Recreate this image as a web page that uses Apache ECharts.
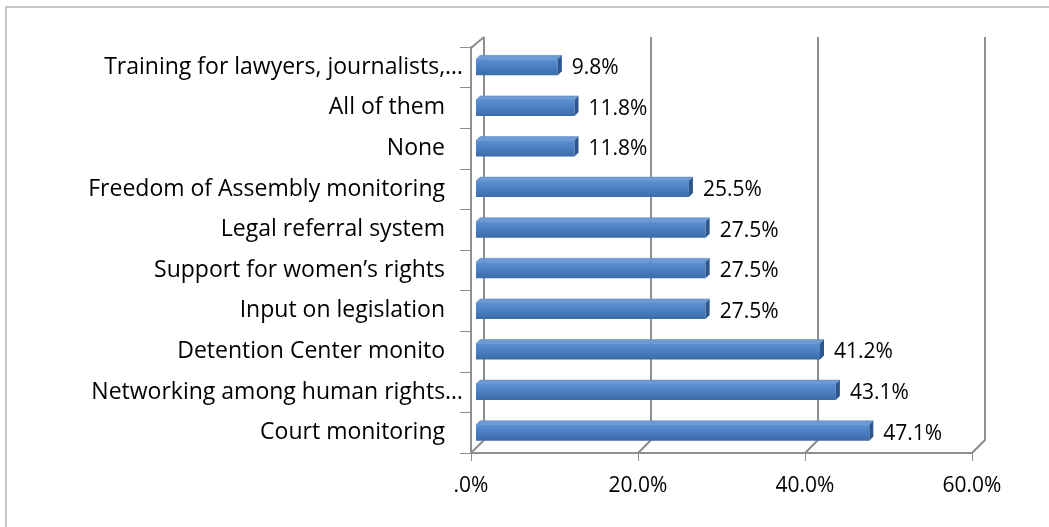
<!DOCTYPE html>
<html>
<head>
<meta charset="utf-8">
<script src="https://cdn.jsdelivr.net/npm/echarts@6/dist/echarts.min.js"></script>
<style>
  body, html { margin: 0; padding: 0; background: #ffffff; }
  #frame {
    position: absolute; left: 5px; top: 6px; width: 1100px; height: 600px;
    border-left: 2px solid #c6c6c6; border-top: 2px solid #c6c6c6;
  }
  #chart { position: absolute; left: 0; top: 0; width: 1049px; height: 527px; }
</style>
</head>
<body>
<div id="frame"></div>
<div id="chart"></div>
<script>
// categories listed top to bottom
const categories = [
  "Training for lawyers, journalists,…",
  "All of them",
  "None",
  "Freedom of Assembly monitoring",
  "Legal referral system",
  "Support for women’s rights",
  "Input on legislation",
  "Detention Center monito",
  "Networking among human rights…",
  "Court monitoring"
];
const values = [9.8, 11.8, 11.8, 25.5, 27.5, 27.5, 27.5, 41.2, 43.1, 47.1];
const xTicks = [0, 20, 40, 60];

const FONT = "'Open Sans'";
const CAT_SIZE = 23;
const NUM_SIZE = 21;
const DEPTH = 13;   // wall depth offset
const GRID = "#8e8e8e";

let chart = echarts.init(document.getElementById("chart"));

function frameItem(params, api) {
  const cs = params.coordSys;
  const v = api.value(0);
  const x0 = api.coord([v, categories[0]])[0];
  const bottom = cs.y + cs.height;
  const top = cs.y;
  const style = { stroke: GRID, lineWidth: 2, fill: null };
  const children = [
    { type: "polyline", shape: { points: [[x0, bottom], [x0 + DEPTH, bottom - DEPTH], [x0 + DEPTH, top - 10]] }, style: style }
  ];
  if (v === 0) {
    children.push({ type: "polyline", shape: { points: [[x0, bottom], [x0, top + 1], [x0 + DEPTH, top - 10]] }, style: style });
  }
  return { type: "group", children: children };
}

function barItem(params, api) {
  const v = api.value(0);
  const cat = api.value(1);
  const start = api.coord([0, cat]);
  const end = api.coord([v, cat]);
  const ox = 5, h = 16, d = 4;
  const x = start[0] + ox;
  const w = end[0] - start[0];
  const y = end[1] - h / 2;
  return {
    type: "group",
    children: [
      {
        type: "polygon",
        shape: { points: [[x, y], [x + d, y - d], [x + w + d, y - d], [x + w, y]] },
        style: { fill: "#6f9bd4", stroke: "#5a87c2", lineWidth: 0.5 }
      },
      {
        type: "rect",
        shape: { x: x, y: y, width: w, height: h },
        style: {
          fill: new echarts.graphic.LinearGradient(0, 0, 0, 1, [
            { offset: 0, color: "#5b90d2" },
            { offset: 0.5, color: "#4a7ec1" },
            { offset: 1, color: "#3b6aa8" }
          ])
        }
      },
      {
        type: "polygon",
        shape: { points: [[x + w, y], [x + w + d, y - d], [x + w + d, y + h - d], [x + w, y + h]] },
        style: { fill: "#2d578c" }
      },
      {
        type: "text",
        x: x + w + d + 10,
        y: end[1] + 1,
        style: {
          text: v.toFixed(1) + "%",
          fill: "#000000",
          font: NUM_SIZE + "px " + FONT,
          verticalAlign: "middle",
          align: "left"
        }
      }
    ]
  };
}

let option = {
  backgroundColor: "transparent",
  animation: false,
  grid: { left: 471, right: 77, top: 47, bottom: 74 },
  xAxis: {
    type: "value",
    min: 0,
    max: 60,
    interval: 20,
    axisLine: { show: true, lineStyle: { color: GRID, width: 2 } },
    axisTick: { show: true, length: 8, lineStyle: { color: GRID, width: 1 } },
    splitLine: { show: false },
    axisLabel: {
      margin: 23,
      color: "#000000",
      fontFamily: FONT,
      fontSize: NUM_SIZE,
      formatter: function (value) {
        return value === 0 ? ".0%" : value.toFixed(1) + "%";
      }
    }
  },
  yAxis: {
    type: "category",
    inverse: true,
    data: categories,
    axisLine: { show: true, lineStyle: { color: GRID, width: 2 } },
    axisTick: { show: true, length: 11, lineStyle: { color: GRID, width: 1 } },
    axisLabel: {
      margin: 8,
      color: "#000000",
      fontFamily: FONT,
      fontSize: CAT_SIZE,
      formatter: function (value) {
        return value.endsWith("…") ? value : "{pad|" + value + "}";
      },
      rich: {
        pad: { padding: [0, 18, 0, 0], color: "#000000", fontFamily: FONT, fontSize: CAT_SIZE }
      }
    }
  },
  series: [
    {
      type: "custom",
      renderItem: frameItem,
      data: xTicks.map(v => [v]),
      encode: { x: 0 },
      z: 1,
      silent: true
    },
    {
      type: "custom",
      renderItem: barItem,
      data: values.map((v, i) => [v, categories[i]]),
      encode: { x: 0, y: 1 },
      z: 3
    }
  ]
};
chart.setOption(option);
</script>
</body>
</html>
